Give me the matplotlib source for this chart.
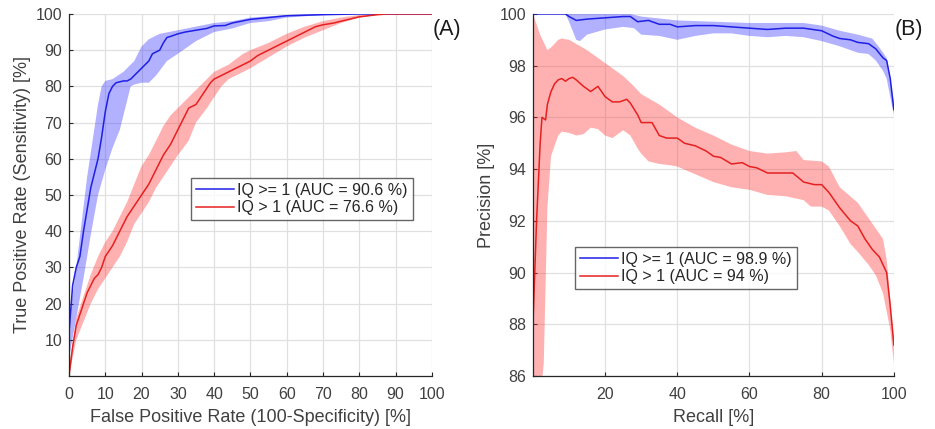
import numpy as np
import matplotlib
matplotlib.use('Agg')
import matplotlib.pyplot as plt

plt.rcParams['font.family'] = ['Liberation Sans', 'DejaVu Sans']

# (A) ROC curves
roc_blue_x = [0, 1, 2, 3, 4, 5, 6, 7, 8, 9, 10, 11, 12, 13, 15, 16, 17, 18, 20, 22, 23, 25, 26, 27, 28, 30, 32, 35, 38, 40, 43, 45, 50, 55, 60, 70, 80, 100]
roc_blue_y = [12, 25, 30, 33, 40, 46, 52, 56, 60, 66, 73, 78, 80, 81, 81.5, 81.5, 82, 83, 85, 87, 89, 90, 92, 93.5, 93.8, 94.5, 95, 95.5, 96, 96.7, 96.8, 97.5, 98.5, 99, 99.5, 99.8, 100, 100]
roc_blue_up_x = [0, 2, 5, 8, 9, 10, 12, 15, 17, 18, 20, 22, 25, 30, 35, 40, 45, 50, 60, 70, 100]
roc_blue_up_y = [15, 30, 55, 75, 80, 81.5, 82, 84, 86, 87, 91, 93, 94.5, 95.5, 96.5, 97.5, 98, 99, 99.7, 100, 100]
roc_blue_lo_x = [0, 2, 4, 6, 8, 10, 12, 14, 15, 17, 18, 20, 22, 24, 27, 30, 35, 40, 45, 50, 55, 60, 70, 80, 100]
roc_blue_lo_y = [5, 16, 27, 39, 50, 57, 63, 68, 72, 80, 80.5, 81, 81, 83, 87, 89, 92.5, 95, 96, 97.5, 98, 99, 99.7, 100, 100]

roc_red_x = [0, 1, 2, 4, 5, 7, 8, 9, 10, 12, 14, 16, 18, 20, 22, 24, 26, 28, 30, 32, 33, 35, 37, 39, 40, 42, 44, 46, 48, 50, 52, 55, 58, 60, 62, 65, 68, 70, 73, 75, 80, 85, 88, 100]
roc_red_y = [0, 8, 14, 20, 23, 27, 28, 30, 33, 36, 40, 44, 47, 50, 53, 57, 61, 64, 68, 72, 74, 75, 78, 81, 82, 83, 84, 85, 86, 87, 88.5, 90, 91.5, 92.5, 93.5, 95, 96.5, 97, 97.5, 98, 99.2, 99.8, 100, 100]
roc_red_up_x = [0, 2, 4, 6, 8, 10, 12, 14, 16, 18, 20, 22, 24, 26, 28, 30, 33, 35, 38, 40, 44, 48, 50, 55, 60, 65, 70, 75, 80, 85, 100]
roc_red_up_y = [2, 16, 22, 28, 33, 37, 40, 44, 48, 53, 58, 61, 65, 69, 72, 74, 77, 79, 82, 84, 86, 89, 90, 92, 94.5, 96.5, 98, 99, 99.7, 100, 100]
roc_red_lo_x = [0, 2, 4, 6, 8, 10, 12, 14, 16, 18, 20, 22, 24, 26, 28, 30, 33, 35, 38, 40, 42, 44, 46, 50, 55, 60, 65, 70, 75, 80, 85, 90, 100]
roc_red_lo_y = [0, 10, 15, 20, 24, 27, 30, 33, 37, 42, 45, 48, 52, 55, 58, 61, 65, 70, 74, 77, 80, 82, 83, 85, 88, 91, 93.5, 95.5, 97.5, 99, 99.7, 100, 100]

# (B) precision-recall curves
pr_blue_x = [0, 9, 10, 12, 15, 20, 25, 27, 29, 32, 35, 38, 40, 45, 50, 55, 60, 65, 70, 75, 80, 83, 85, 88, 90, 93, 95, 97, 98, 99, 100]
pr_blue_y = [100, 100, 99.9, 99.75, 99.8, 99.85, 99.9, 99.9, 99.7, 99.75, 99.6, 99.6, 99.5, 99.55, 99.55, 99.5, 99.45, 99.4, 99.45, 99.45, 99.35, 99.15, 99.05, 99.0, 98.9, 98.85, 98.65, 98.3, 98.2, 97.5, 96.3]
pr_blue_up_x = [0, 27, 30, 40, 50, 60, 70, 75, 80, 85, 90, 94, 96, 98, 100]
pr_blue_up_y = [100, 100, 99.9, 99.75, 99.7, 99.65, 99.65, 99.65, 99.55, 99.35, 99.2, 99.05, 98.7, 98.3, 96.6]
pr_blue_lo_x = [0, 9, 10, 12, 13, 15, 20, 25, 28, 30, 35, 40, 45, 50, 55, 60, 65, 70, 75, 80, 85, 90, 93, 95, 97, 98, 100]
pr_blue_lo_y = [100, 100, 99.7, 99.0, 98.95, 99.2, 99.4, 99.5, 99.45, 99.2, 99.15, 99.0, 99.15, 99.25, 99.25, 99.15, 99.1, 99.15, 99.1, 98.95, 98.75, 98.5, 98.45, 98.2, 97.8, 97.5, 96.1]

pr_red_x = [0, 1, 2, 2.5, 3.5, 4, 5, 6, 7, 8, 9, 10, 11, 12, 14, 16, 18, 19, 20, 22, 24, 26, 27, 29, 30, 32, 33, 35, 37, 40, 42, 45, 48, 50, 52, 55, 58, 60, 62, 65, 68, 70, 72, 75, 78, 80, 82, 85, 88, 90, 92, 94, 96, 98, 99, 100]
pr_red_y = [88, 92, 95, 96, 95.9, 96.5, 97, 97.3, 97.45, 97.5, 97.4, 97.5, 97.55, 97.45, 97.2, 97.0, 97.2, 97.0, 96.8, 96.6, 96.6, 96.7, 96.55, 96.1, 95.8, 95.8, 95.8, 95.3, 95.2, 95.2, 95.0, 94.9, 94.7, 94.5, 94.45, 94.2, 94.25, 94.1, 94.05, 93.85, 93.85, 93.85, 93.85, 93.5, 93.4, 93.4, 93.1, 92.5, 92.0, 91.8, 91.3, 90.9, 90.6, 90.0, 88.7, 87.2]
pr_red_up_x = [0, 2, 4, 5, 7, 8, 10, 15, 20, 25, 28, 30, 35, 40, 45, 50, 55, 60, 65, 70, 73, 75, 80, 82, 85, 90, 95, 97, 98, 99, 100]
pr_red_up_y = [100, 99.2, 98.6, 98.7, 99.0, 99.05, 99.0, 98.6, 98.1, 97.6, 97.2, 96.9, 96.5, 96.0, 95.6, 95.3, 94.95, 94.7, 94.6, 94.65, 94.7, 94.35, 94.3, 94.1, 93.3, 92.7, 91.7, 91.3, 90.5, 89.0, 87.5]
pr_red_lo_x = [0, 2, 3, 4, 5, 7, 8, 10, 12, 14, 16, 18, 20, 22, 25, 27, 29, 30, 32, 35, 38, 40, 45, 50, 55, 60, 65, 70, 75, 77, 80, 82, 85, 88, 90, 93, 95, 97, 99, 100]
pr_red_lo_y = [84, 85, 86.5, 92.5, 94.5, 95.3, 95.45, 95.4, 95.3, 95.35, 95.6, 95.55, 95.3, 95.2, 95.5, 95.3, 94.8, 94.6, 94.3, 94.2, 94.15, 94.1, 93.8, 93.5, 93.3, 93.2, 93.0, 92.95, 92.8, 92.55, 92.55, 92.4, 91.8, 91.1, 90.8, 90.3, 89.9, 89.2, 87.8, 86.5]

legend_a = ['IQ >= 1 (AUC = 90.6 %)', 'IQ > 1 (AUC = 76.6 %)']
legend_b = ['IQ >= 1 (AUC = 98.9 %)', 'IQ > 1 (AUC = 94 %)']

BLUE = '#1f1fe6'
RED = '#e62020'
TXT = '#404040'


def band(ax, ux, uy, lx, ly, color):
    # upper and lower bound were read on different x grids, so close the polygon
    xs = list(ux) + list(lx)[::-1]
    ys = list(uy) + list(ly)[::-1]
    ax.fill(xs, ys, color=color, alpha=0.38, lw=0)


def style(ax):
    ax.grid(True, color='#e0e0e0', lw=0.9)
    ax.set_axisbelow(True)
    for s in ['top', 'right']:
        ax.spines[s].set_visible(False)
    for s in ['left', 'bottom']:
        ax.spines[s].set_color('#262626')
        ax.spines[s].set_linewidth(0.9)
    ax.tick_params(direction='in', length=3, width=0.8, colors='#262626',
                   labelcolor=TXT, labelsize=11.5)
    ax.tick_params(axis='x', pad=8)
    ax.tick_params(axis='y', pad=5)


def legend(ax, x, y):
    leg = ax.legend(loc='upper left', bbox_to_anchor=(x, y), fontsize=11.5,
                    frameon=True, fancybox=False, edgecolor='#404040', handlelength=2.4,
                    handletextpad=0.2, borderpad=0.3, labelspacing=0.15, borderaxespad=0)
    leg.get_frame().set_linewidth(1.0)
    for t in leg.get_texts():
        t.set_color('#262626')


fig = plt.figure(figsize=(9.35, 4.29), dpi=100)
axA = fig.add_axes([0.0738, 0.1235, 0.388, 0.844])
axB = fig.add_axes([0.570, 0.1235, 0.386, 0.844])

band(axA, roc_blue_up_x, roc_blue_up_y, roc_blue_lo_x, roc_blue_lo_y, '#3333ff')
band(axA, roc_red_up_x, roc_red_up_y, roc_red_lo_x, roc_red_lo_y, '#ff3333')
axA.plot(roc_blue_x, roc_blue_y, color=BLUE, lw=1.1, label=legend_a[0])
axA.plot(roc_red_x, roc_red_y, color=RED, lw=1.1, label=legend_a[1])
axA.set_xlim(0, 100)
axA.set_ylim(0, 100)
axA.set_xticks(np.arange(0, 101, 10))
axA.set_yticks(np.arange(10, 101, 10))
style(axA)
axA.set_xlabel('False Positive Rate (100-Specificity) [%]', fontsize=13, color=TXT, labelpad=5)
axA.set_ylabel('True Positive Rate (Sensitivity) [%]', fontsize=13, color=TXT, labelpad=3)
legend(axA, 0.336, 0.547)
axA.text(1.003, 0.985, '(A)', transform=axA.transAxes, fontsize=15.5, color='#1a1a1a', va='top', ha='left')

band(axB, pr_blue_up_x, pr_blue_up_y, pr_blue_lo_x, pr_blue_lo_y, '#3333ff')
band(axB, pr_red_up_x, pr_red_up_y, pr_red_lo_x, pr_red_lo_y, '#ff3333')
axB.plot(pr_blue_x, pr_blue_y, color=BLUE, lw=1.1, label=legend_b[0])
axB.plot(pr_red_x, pr_red_y, color=RED, lw=1.1, label=legend_b[1])
axB.set_xlim(0, 100)
axB.set_ylim(86, 100)
axB.set_xticks([20, 40, 60, 80, 100])
axB.set_yticks(np.arange(86, 101, 2))
style(axB)
axB.set_xlabel('Recall [%]', fontsize=13, color=TXT, labelpad=5)
axB.set_ylabel('Precision [%]', fontsize=13, color=TXT, labelpad=3)
legend(axB, 0.116, 0.356)
axB.text(1.003, 0.985, '(B)', transform=axB.transAxes, fontsize=15.5, color='#1a1a1a', va='top', ha='left')

fig.savefig('out.png', dpi=100)
